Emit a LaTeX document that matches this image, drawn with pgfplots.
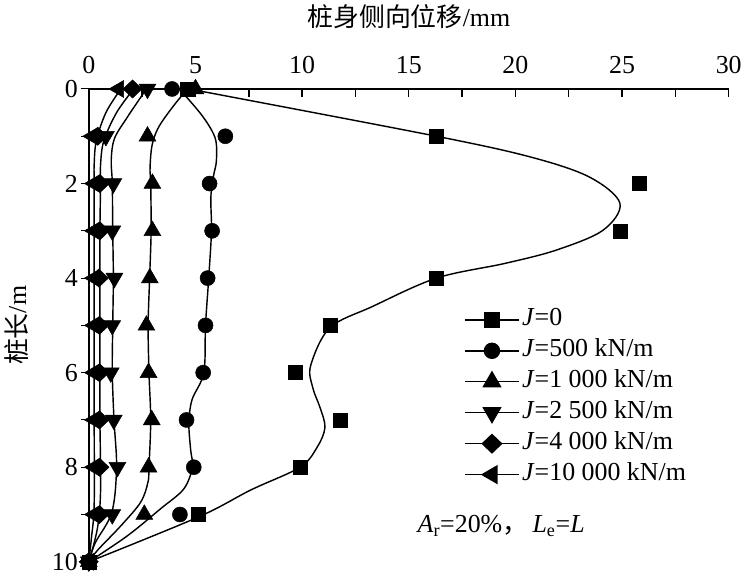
\documentclass[border=0pt]{standalone}
\usepackage{fontspec}
\setmainfont{Liberation Serif}
\newfontfamily\cjk{Noto Sans CJK SC}
\usepackage{pgfplots}
\pgfplotsset{compat=1.18}

\pgfplotsset{
  fitline/.style={black, line width=1.1pt, smooth, tension=0.55, forget plot},
  pts/.style={only marks, black, fill=black, mark options={solid, line width=0.4pt}, forget plot},
}

\begin{document}
\begin{tikzpicture}[font=\fontsize{20}{24}\selectfont]
\begin{axis}[
  width=494pt, height=365pt, scale only axis,
  xmin=0, xmax=30, ymin=0, ymax=10,
  y dir=reverse,
  axis x line*=top, axis y line*=left,
  axis line style={-, line width=1.3pt},
  xtick={0,5,...,30}, minor x tick num=1,
  ytick={0,2,...,10}, minor y tick num=1,
  tick align=inside,
  major tick length=6pt, minor tick length=6pt,
  tick style={black, line width=1.1pt},
  y tick style={xshift=-6pt, line width=0.8pt},
  /pgf/number format/assume math mode=true,
  xticklabel style={yshift=8pt},
  yticklabel style={xshift=-5pt},
  clip=false,
  legend cell align=left,
  legend style={at={(0.587,0.545)}, anchor=north west, draw=none, fill=none,
    inner sep=0pt, row sep=0pt, column sep=0pt,
    nodes={inner xsep=2pt, inner ysep=2.7pt, text height=14pt, text depth=4.5pt}},
  legend image code/.code={\draw[mark repeat=2, mark phase=2, #1] plot coordinates {(0cm,0cm) (0.72cm,0cm) (1.45cm,0cm)};},
]
% legend entries
\addlegendimage{black, line width=1.1pt, mark=square*, mark size=5.4pt, mark options={solid}}
\addlegendentry{\textit{J}=0}
\addlegendimage{black, line width=1.1pt, mark=*, mark size=5.8pt, mark options={solid}}
\addlegendentry{\textit{J}=500 kN/m}
\addlegendimage{black, line width=1.1pt, mark=triangle*, mark size=7.5pt, mark options={solid}}
\addlegendentry{\textit{J}=1 000 kN/m}
\addlegendimage{black, line width=1.1pt, mark=triangle*, mark size=7.5pt, mark options={solid, rotate=180}}
\addlegendentry{\textit{J}=2 500 kN/m}
\addlegendimage{black, line width=1.1pt, mark=diamond*, mark size=7pt, mark options={solid, xscale=1.4}}
\addlegendentry{\textit{J}=4 000 kN/m}
\addlegendimage{black, line width=1.1pt, mark=triangle*, mark size=7.5pt, mark options={solid, rotate=90}}
\addlegendentry{\textit{J}=10 000 kN/m}

% fitted curves
% J=0
\addplot[fitline] coordinates {(4.7,0) (16.3,1) (20.8,1.45) (23.5,1.87) (24.9,2.42) (24.1,2.99) (21.9,3.41) (19.5,3.69) (16.3,4.0) (13.3,4.6) (11.3,5.05) (10.4,5.85) (10.5,6.32) (10.84,6.74) (11.07,7.16) (10.7,7.58) (9.9,8.0) (7.6,8.48) (5.15,9.05) (0,10)};
% J=500
\addplot[fitline] coordinates {(4.2,0) (4.44,0.1) (5.37,0.6) (5.93,1.05) (5.98,1.52) (5.85,1.83) (5.72,2.3) (5.75,3) (5.62,4) (5.47,5) (5.39,6) (4.84,6.57) (4.69,7.06) (4.77,7.62) (4.85,8.0) (4.45,8.46) (3.36,8.88) (1.81,9.45) (0,10)};
% J=1000
\addplot[fitline] coordinates {(4.9,0) (4.44,0.1) (3.36,0.74) (2.98,1.16) (2.87,1.66) (2.9,2) (2.92,3) (2.85,4) (2.78,5) (2.82,6) (2.9,7) (2.82,8) (2.77,8.32) (2.43,8.74) (1.5,9.24) (0.4,9.76) (0,10)};
% J=2500
\addplot[fitline] coordinates {(2.7,0) (1.8,0.6) (1.2,1.05) (1.05,1.5) (1.1,2) (1.12,3) (1.15,4) (1.12,5) (1.1,6) (1.18,7) (1.3,8) (1.08,8.95) (0.3,9.6) (0,10)};
% J=4000
\addplot[fitline] coordinates {(2.1,0) (1.3,0.5) (0.7,1.1) (0.55,1.6) (0.55,2) (0.52,3) (0.52,4) (0.52,5) (0.52,6) (0.52,7) (0.55,8.5) (0.4,9.3) (0,10)};
% J=10000
\addplot[fitline] coordinates {(1.5,0) (0.8,0.5) (0.35,1.1) (0.25,1.6) (0.25,2) (0.25,3) (0.25,4) (0.25,5) (0.25,6) (0.25,7) (0.25,8.8) (0.12,9.5) (0,10)};

% measured points
\addplot[pts, mark=square*, mark size=5.4pt] coordinates {(4.6,0) (16.3,1) (25.8,2) (24.9,3) (16.3,4) (11.3,5) (9.7,6) (11.8,7) (9.9,8) (5.15,9) (0,10)};
\addplot[pts, mark=*, mark size=5.8pt] coordinates {(3.9,0) (6.4,1) (5.66,2) (5.78,3) (5.57,4) (5.47,5) (5.36,6) (4.58,7) (4.92,8) (4.27,9) (0,10)};
\addplot[pts, mark=triangle*, mark size=7.5pt] coordinates {(5.0,0) (2.75,1) (2.98,2) (2.98,3) (2.86,4) (2.7,5) (2.8,6) (2.95,7) (2.8,8) (2.6,9) (0,10)};
\addplot[pts, mark=triangle*, mark size=7.5pt, mark options={rotate=180}] coordinates {(2.75,0) (0.8,1) (1.15,2) (1.1,3) (1.2,4) (1.1,5) (1.03,6) (1.17,7) (1.34,8) (1.1,9) (0,10)};
\addplot[pts, mark=diamond*, mark size=7pt, mark options={xscale=1.4}] coordinates {(2.05,0) (0.42,1) (0.52,2) (0.52,3) (0.47,4) (0.5,5) (0.5,6) (0.5,7) (0.5,8) (0.5,9) (0,10)};
\addplot[pts, mark=triangle*, mark size=7.5pt, mark options={rotate=90}] coordinates {(1.4,0) (0.17,1) (0.25,2) (0.25,3) (0.25,4) (0.25,5) (0.25,6) (0.25,7) (0.25,8) (0.25,9) (0,10)};

% labels and note
\node[yshift=56pt] at (axis cs:15,0) {{\cjk 桩身侧向位移}/mm};
\node[xshift=-56pt, rotate=90] at (axis cs:0,5) {{\cjk 桩长}/m};
\node[anchor=west] at (axis cs:15.2,9.24) {\textit{A}\textsubscript{r}=20\%{\cjk ，}\,\textit{L}\textsubscript{e}=\textit{L}};
\end{axis}
\end{tikzpicture}
\end{document}
